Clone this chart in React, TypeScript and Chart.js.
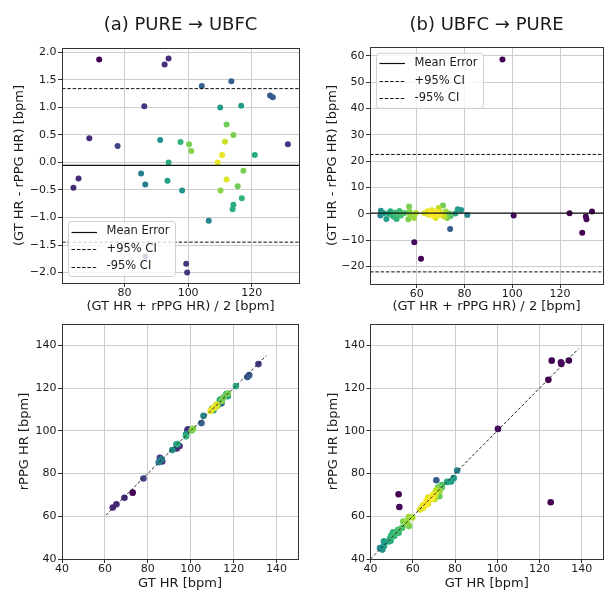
import React, { useEffect, useRef } from 'react';
import { Chart, registerables } from 'chart.js';

Chart.register(...registerables);

const FONT_FAMILY = '"DejaVu Sans", "Liberation Sans", sans-serif';
const TEXT = '#1a1a1a';
const GRID = '#cdcdcd';
const SPINE = '#333333';

// ---------- (a) PURE -> UBFC : Bland-Altman readings ----------
const ubfcMean = [72.0, 92.6, 93.85, 86.2, 68.9, 77.8, 91.2, 97.6, 93.85, 65.5, 63.9, 85.2, 86.5, 93.5, 98.1, 86.5,
  104.3, 113.6, 125.8, 126.65, 110.1, 116.7, 112.1, 114.25, 100.3, 101.0, 111.6, 110.7, 109.3, 121.0, 131.4,
  117.4, 112.1, 110.2, 115.6, 116.9, 114.25, 114.0, 106.5, 99.4, 99.7];
const ubfcDiff = [1.87, 1.78, 1.89, 1.02, 0.44, 0.30, 0.41, 0.37, 0.0, -0.29, -0.46, -0.20, -0.40, -0.33, -0.51, -1.71,
  1.39, 1.475, 1.215, 1.185, 1.0, 1.03, 0.69, 0.50, 0.33, 0.21, 0.375, 0.134, 0.0, 0.134, 0.33,
  -0.15, -0.31, -0.51, -0.43, -0.65, -0.77, -0.85, -1.06, -1.84, -2.0];
const ubfcDensity = [0.0, 0.13, 0.13, 0.15, 0.12, 0.2, 0.5, 0.65, 0.62, 0.12, 0.12, 0.42, 0.42, 0.55, 0.5, 0.15,
  0.3, 0.3, 0.28, 0.28, 0.55, 0.55, 0.78, 0.8, 0.8, 0.82, 0.92, 0.97, 0.97, 0.62, 0.15,
  0.8, 0.95, 0.82, 0.78, 0.65, 0.62, 0.62, 0.45, 0.15, 0.15];
const ubfcMeanError = -0.053;
const ubfcUpperCI = 1.342;
const ubfcLowerCI = -1.448;

// ---------- (b) UBFC -> PURE : Bland-Altman readings ----------
const pureMean = [45.0, 44.8, 46.2, 47.3, 48.3, 49.0, 49.6, 50.4, 51.0, 51.6, 52.2, 52.8, 53.4, 54.8, 56.8, 56.5,
  57.0, 57.2, 58.9, 59.6, 63.3, 64.5, 65.0, 65.8, 66.4, 66.8, 67.5, 68.0, 68.6, 69.2, 69.8, 70.4, 71.0, 71.5,
  72.2, 72.8, 73.6, 74.2, 76.2, 77.2, 78.6, 81.2, 59.0, 61.8, 74.0, 95.9, 100.6, 124.0, 129.3, 130.8, 131.1, 133.4];
const pureDiff = [1.2, -0.6, 0.3, -1.9, 0.2, 1.0, -0.5, -1.1, 0.5, -1.9, -0.2, 1.1, -0.6, 0.4, 2.8, -2.0,
  0.9, -0.5, -1.5, 0.4, 0.3, 1.0, -0.3, 0.6, 1.4, -0.7, 0.0, -1.5, 0.8, 2.3, -0.4, 0.5, 3.2, -1.0,
  0.9, -1.5, 0.2, -0.8, 0.2, 1.8, 1.5, -0.4, -10.7, -17.0, -5.7, 58.7, -0.6, 0.3, -7.1, -1.0, -2.0, 0.9];
const pureDensity = [0.5, 0.45, 0.55, 0.55, 0.6, 0.62, 0.65, 0.65, 0.68, 0.65, 0.7, 0.68, 0.7, 0.72, 0.8, 0.8,
  0.82, 0.84, 0.85, 0.88, 0.95, 0.97, 0.97, 1.0, 0.96, 1.0, 1.0, 0.95, 1.0, 0.9, 0.98, 0.95, 0.78, 0.9,
  0.85, 0.8, 0.75, 0.72, 0.6, 0.55, 0.52, 0.45, 0.02, 0.0, 0.28, 0.0, 0.03, 0.0, 0.0, 0.02, 0.02, 0.0];
const pureMeanError = 0.3;
const pureUpperCI = 22.6;
const pureLowerCI = -22.0;

// ---------- ticks and ranges ----------
const blandXTicksA = [80, 100, 120];
const blandYTicksA = [-2.0, -1.5, -1.0, -0.5, 0.0, 0.5, 1.0, 1.5, 2.0];
const blandXTicksB = [60, 80, 100, 120];
const blandYTicksB = [-20, -10, 0, 10, 20, 30, 40, 50, 60];
const scatterTicks = [40, 60, 80, 100, 120, 140];
const blandXRangeA = [60.3, 134.9];
const blandYRangeA = [-2.19, 2.08];
const blandXRangeB = [40.45, 138.0];
const blandYRangeB = [-26.6, 63.4];
const scatterRange = [40, 150];
const identityRangeA = [60.5, 135.2];
const identityRangeB = [40, 138.5];

const panelTitles = ['(a) PURE \u2192 UBFC', '(b) UBFC \u2192 PURE'];
const legendLabels = ['Mean Error', '+95% CI', '-95% CI'];

// ---------- helpers ----------
const VIRIDIS = ['#440154', '#482475', '#414487', '#355f8d', '#2a788e', '#21918c', '#22a884', '#44bf70', '#7ad151', '#bddf26', '#fde725'];
function hexRgb(h: string) {
  return [parseInt(h.slice(1, 3), 16), parseInt(h.slice(3, 5), 16), parseInt(h.slice(5, 7), 16)];
}
function viridis(t: number) {
  const v = Math.max(0, Math.min(1, t)) * 10;
  const i = Math.min(9, Math.floor(v));
  const f = v - i;
  const a = hexRgb(VIRIDIS[i]);
  const b = hexRgb(VIRIDIS[i + 1]);
  const c = a.map((x, k) => Math.round(x + (b[k] - x) * f));
  return `rgb(${c[0]},${c[1]},${c[2]})`;
}
function fmtTick(v: number, decimals: number) {
  const s = v.toFixed(decimals);
  return s.replace('-', '\u2212');
}

function buildPoints(mean: number[], diff: number[], dens: number[], mode: 'bland' | 'scatter') {
  const idx = mean.map((_, i) => i).sort((a, b) => dens[a] - dens[b]);
  const data = idx.map((i) =>
    mode === 'bland'
      ? { x: mean[i], y: diff[i] }
      : { x: mean[i] + diff[i] / 2, y: mean[i] - diff[i] / 2 }
  );
  const colors = idx.map((i) => viridis(dens[i]));
  return { data, colors };
}

function axis(o: { range: number[]; ticks: number[]; decimals: number; title: string; size: number; horizontal: boolean; titlePad: number }) {
  return {
    type: 'linear',
    min: o.range[0],
    max: o.range[1],
    afterBuildTicks: (s: any) => {
      s.ticks = o.ticks.map((v) => ({ value: v }));
    },
    afterFit: (s: any) => {
      if (o.horizontal) s.height = o.size;
      else s.width = o.size;
    },
    grid: { color: GRID, lineWidth: 1, drawTicks: true, tickLength: 4, tickColor: SPINE, tickWidth: 1 },
    border: { display: false },
    ticks: {
      autoSkip: false,
      maxRotation: 0,
      minRotation: 0,
      padding: o.horizontal ? 0 : 1.5,
      color: TEXT,
      font: { family: FONT_FAMILY, size: 11 },
      callback: (v: number) => fmtTick(v, o.decimals),
    },
    title: {
      display: true,
      text: o.title,
      color: TEXT,
      font: { family: FONT_FAMILY, size: 13, lineHeight: 1 },
      padding: o.horizontal ? { top: 0, bottom: o.titlePad } : { top: 0, bottom: 0 },
    },
  };
}

const framePlugin = {
  id: 'frame',
  afterDatasetsDraw(chart: any) {
    const { ctx, chartArea: a } = chart;
    const al = (v: number) => Math.round(v - 0.5) + 0.5;
    ctx.save();
    ctx.strokeStyle = SPINE;
    ctx.lineWidth = 1;
    ctx.strokeRect(al(a.left), al(a.top), al(a.right) - al(a.left), al(a.bottom) - al(a.top));
    ctx.restore();
  },
};

function makeTitlePlugin(text: string, y: number) {
  return {
    id: 'panelTitle',
    afterDraw(chart: any) {
      const { ctx, chartArea: a } = chart;
      ctx.save();
      ctx.font = `18px ${FONT_FAMILY}`;
      ctx.fillStyle = TEXT;
      ctx.textAlign = 'center';
      ctx.textBaseline = 'middle';
      ctx.fillText(text, (a.left + a.right) / 2, y);
      ctx.restore();
    },
  };
}

function makeLegendPlugin(corner: 'bl' | 'tl') {
  return {
    id: 'boxLegend',
    afterDraw(chart: any) {
      const { ctx, chartArea: a } = chart;
      const w = 107;
      const h = 55;
      const x0 = a.left + 6.5;
      const y0 = corner === 'bl' ? a.bottom - 6.5 - h : a.top + 6.3;
      const r = 3;
      ctx.save();
      ctx.beginPath();
      ctx.moveTo(x0 + r, y0);
      ctx.lineTo(x0 + w - r, y0);
      ctx.arcTo(x0 + w, y0, x0 + w, y0 + r, r);
      ctx.lineTo(x0 + w, y0 + h - r);
      ctx.arcTo(x0 + w, y0 + h, x0 + w - r, y0 + h, r);
      ctx.lineTo(x0 + r, y0 + h);
      ctx.arcTo(x0, y0 + h, x0, y0 + h - r, r);
      ctx.lineTo(x0, y0 + r);
      ctx.arcTo(x0, y0, x0 + r, y0, r);
      ctx.closePath();
      ctx.fillStyle = 'rgba(255,255,255,0.8)';
      ctx.fill();
      ctx.strokeStyle = '#d0d0d0';
      ctx.lineWidth = 1;
      ctx.stroke();
      const rows = [10, 27.6, 45];
      legendLabels.forEach((label, i) => {
        const yy = Math.round(y0 + rows[i]) + 0.5;
        ctx.beginPath();
        ctx.setLineDash(i === 0 ? [] : [3.5, 1.8]);
        ctx.strokeStyle = '#111';
        ctx.lineWidth = i === 0 ? 1.2 : 1;
        ctx.moveTo(x0 + 3, yy);
        ctx.lineTo(x0 + 28.5, yy);
        ctx.stroke();
        ctx.setLineDash([]);
        ctx.font = `11.5px ${FONT_FAMILY}`;
        ctx.fillStyle = TEXT;
        ctx.textAlign = 'left';
        ctx.textBaseline = 'middle';
        ctx.fillText(label, x0 + 38, y0 + rows[i]);
      });
      ctx.restore();
    },
  };
}

function hLine(xr: number[], y: number, dashed: boolean) {
  return {
    type: 'scatter',
    data: [{ x: xr[0], y }, { x: xr[1], y }],
    showLine: true,
    pointRadius: 0,
    borderColor: '#111',
    borderWidth: dashed ? 1 : 1.2,
    borderDash: dashed ? [3.5, 1.8] : [],
    order: 0,
  };
}

function blandConfig(p: {
  mean: number[]; diff: number[]; dens: number[]; xr: number[]; yr: number[]; xt: number[]; yt: number[];
  yDec: number; me: number; up: number; lo: number; title: string; corner: 'bl' | 'tl';
  padLeft: number; padTop: number; padRight: number; yW: number; xH: number; titlePad: number;
}) {
  const pts = buildPoints(p.mean, p.diff, p.dens, 'bland');
  return {
    type: 'scatter',
    data: {
      datasets: [
        hLine(p.xr, p.me, false),
        hLine(p.xr, p.up, true),
        hLine(p.xr, p.lo, true),
        {
          data: pts.data,
          pointBackgroundColor: pts.colors,
          pointBorderWidth: 0,
          pointRadius: 3,
          order: 1,
        },
      ],
    },
    options: {
      responsive: false,
      animation: false,
      devicePixelRatio: 1,
      layout: { padding: { left: p.padLeft, top: p.padTop, right: p.padRight, bottom: 0 } },
      plugins: { legend: { display: false }, tooltip: { enabled: false } },
      scales: {
        x: axis({ range: p.xr, ticks: p.xt, decimals: 0, title: '(GT HR + rPPG HR) / 2 [bpm]', size: p.xH, horizontal: true, titlePad: p.titlePad }),
        y: axis({ range: p.yr, ticks: p.yt, decimals: p.yDec, title: '(GT HR - rPPG HR) [bpm]', size: p.yW, horizontal: false, titlePad: 0 }),
      },
    },
    plugins: [framePlugin, makeLegendPlugin(p.corner), makeTitlePlugin(p.title, 25.5)],
  };
}

function scatterConfig(p: {
  mean: number[]; diff: number[]; dens: number[]; idr: number[];
  padLeft: number; padTop: number; padRight: number; yW: number; xH: number; titlePad: number;
}) {
  const pts = buildPoints(p.mean, p.diff, p.dens, 'scatter');
  return {
    type: 'scatter',
    data: {
      datasets: [
        {
          data: [{ x: p.idr[0], y: p.idr[0] }, { x: p.idr[1], y: p.idr[1] }],
          showLine: true,
          pointRadius: 0,
          borderColor: '#222',
          borderWidth: 1,
          borderDash: [3, 2],
          order: 0,
        },
        {
          data: pts.data,
          pointBackgroundColor: pts.colors,
          pointBorderWidth: 0,
          pointRadius: 3.3,
          order: 1,
        },
      ],
    },
    options: {
      responsive: false,
      animation: false,
      devicePixelRatio: 1,
      layout: { padding: { left: p.padLeft, top: p.padTop, right: p.padRight, bottom: 0 } },
      plugins: { legend: { display: false }, tooltip: { enabled: false } },
      scales: {
        x: axis({ range: scatterRange, ticks: scatterTicks, decimals: 0, title: 'GT HR [bpm]', size: p.xH, horizontal: true, titlePad: p.titlePad }),
        y: axis({ range: scatterRange, ticks: scatterTicks, decimals: 0, title: 'rPPG HR [bpm]', size: p.yW, horizontal: false, titlePad: 0 }),
      },
    },
    plugins: [framePlugin],
  };
}

function Panel(props: { left: number; top: number; width: number; height: number; build: () => any }) {
  const ref = useRef<HTMLCanvasElement>(null);
  useEffect(() => {
    const chart = new Chart(ref.current as HTMLCanvasElement, props.build());
    return () => chart.destroy();
  }, []);
  return (
    <canvas
      ref={ref}
      width={props.width}
      height={props.height}
      style={{ position: 'absolute', left: props.left, top: props.top, width: props.width, height: props.height }}
    />
  );
}

export default function App() {
  return (
    <div style={{ position: 'absolute', left: 0, top: 0, width: 605, height: 590, overflow: 'hidden', background: '#fff' }}>
      <Panel
        left={0} top={0} width={305} height={315}
        build={() => blandConfig({
          mean: ubfcMean, diff: ubfcDiff, dens: ubfcDensity, xr: blandXRangeA, yr: blandYRangeA,
          xt: blandXTicksA, yt: blandYTicksA, yDec: 1, me: ubfcMeanError, up: ubfcUpperCI, lo: ubfcLowerCI,
          title: panelTitles[0], corner: 'bl', padLeft: 13.5, padTop: 48, padRight: 6, yW: 48.5, xH: 32, titlePad: 2,
        })}
      />
      <Panel
        left={305} top={0} width={302} height={315}
        build={() => blandConfig({
          mean: pureMean, diff: pureDiff, dens: pureDensity, xr: blandXRangeB, yr: blandYRangeB,
          xt: blandXTicksB, yt: blandYTicksB, yDec: 0, me: pureMeanError, up: pureUpperCI, lo: pureLowerCI,
          title: panelTitles[1], corner: 'tl', padLeft: 21, padTop: 47, padRight: 1, yW: 44, xH: 31, titlePad: 1.5,
        })}
      />
      <Panel
        left={0} top={315} width={305} height={275}
        build={() => scatterConfig({
          mean: ubfcMean, diff: ubfcDiff, dens: ubfcDensity, idr: identityRangeA,
          padLeft: 18.5, padTop: 9, padRight: 7, yW: 43.5, xH: 31, titlePad: 0,
        })}
      />
      <Panel
        left={305} top={315} width={302} height={275}
        build={() => scatterConfig({
          mean: pureMean, diff: pureDiff, dens: pureDensity, idr: identityRangeB,
          padLeft: 22.5, padTop: 9, padRight: 1, yW: 43, xH: 31, titlePad: 0,
        })}
      />
    </div>
  );
}
